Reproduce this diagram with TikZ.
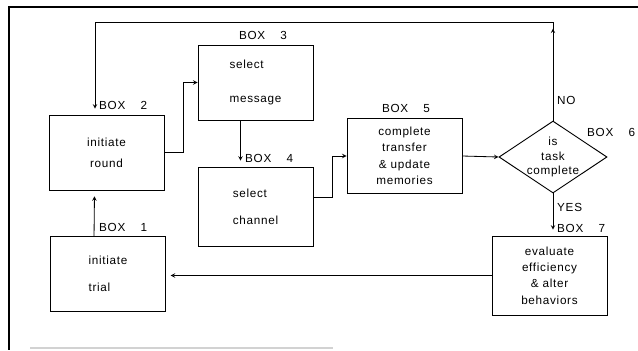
\documentclass[tikz,border=0pt]{standalone}
\usepackage{fontspec}
\setmainfont{Liberation Sans}[LetterSpace=6]
\usepackage{tikz}
\usetikzlibrary{calc, shapes.geometric, positioning}

\begin{document}
\begin{tikzpicture}[>=stealth, x=0.03cm, y=-0.03cm,
    font=\fontsize{10}{12}\selectfont,
    box/.style={draw, line width=0.8pt, minimum width=3.45cm, minimum height=2.25cm, inner sep=0pt},
    decision/.style={draw, line width=0.8pt, diamond, minimum width=3.24cm, minimum height=2.16cm, inner sep=0pt},
    tag/.style={inner sep=0pt},
    flow/.style={line width=0.7pt}]

    \useasboundingbox (0,0) rectangle (638,350);

    % Khung ngoai
    \draw[line width=0.9pt] (638,7) -- (9,7) -- (9,350);
    \draw[gray!35, line width=1pt] (30,348) -- (333,348);

    % Cac hop
    \node[box, align=left] (b1) at (108,274) {initiate\\[11pt]trial};
    \node[box, align=center] (b2) at (106.5,152.5) {initiate\\[6pt]round};
    \node[box, align=left] (b3) at (255.5,82.5) {select\\[17pt]message};
    \node[box, align=left, minimum height=2.37cm] (b4) at (255.5,206.5) {select\\[11pt]channel};
    \node[box, align=center] (b5) at (404.5,156) {complete\\[2pt]transfer\\[2pt]\& update\\[2pt]memories};
    \node[decision] (b6) at (553,157) {};
    \node[tag, align=center] (b6txt) at (b6.center) {is\\task\\complete};
    \node[box, align=center, minimum height=2.37cm] (b7) at (549.5,275.5) {evaluate\\[2pt]efficiency\\[2pt]\& alter\\[2pt]behaviors};

    % Nhan cac hop
    \node[tag, anchor=west] (l1) at (99,227) {BOX\hspace{1.3em}1};
    \node[tag, anchor=west] (l2) at (99,105) {BOX\hspace{1.3em}2};
    \node[tag] (l3) at (263,35) {BOX\hspace{1.3em}3};
    \node[tag, anchor=west] (l4) at (245,158) {BOX\hspace{1.3em}4};
    \node[tag] (l5) at (406,108) {BOX\hspace{1.3em}5};
    \node[tag, anchor=west] (l6) at (587,132) {BOX\hspace{1.3em}6};
    \node[tag, anchor=west] (l7) at (557,228) {BOX\hspace{1.3em}7};
    \node[tag, anchor=west] (no) at (557,100) {NO};
    \node[tag, anchor=west] (yes) at (557,207) {YES};

    % Cac mui ten
    \coordinate (fb) at (95,22);
    \draw[flow, ->, shorten >=5pt] ($(b1.north west)+(44,0)$) -- ($(b2.south west)+(46,0)$);
    \draw[flow, ->] (b2.east) -- ++(19,0) |- (b3.west);
    \draw[flow, ->, shorten >=5pt] ($(b3.south)+(-15,0)$) -- ($(b4.north)+(-15,0)$);
    \draw[flow, ->] ($(b4.east)+(0,-9)$) -- ++(19,0) |- (b5.west);
    \draw[flow, ->] (b5.east) -- (b6.west);
    \draw[flow, ->] (b6.north) -- ++(0,-92);
    \draw[flow, ->, shorten >=5pt] (b6.north) |- (fb) -- (fb |- b2.north);
    \draw[flow, ->, shorten >=5pt] (b6.south) -- (b6.south |- b7.north);
    \draw[flow, ->, shorten >=4pt] (b7.west) -- (b7.west -| b1.east);

\end{tikzpicture}
\end{document}
